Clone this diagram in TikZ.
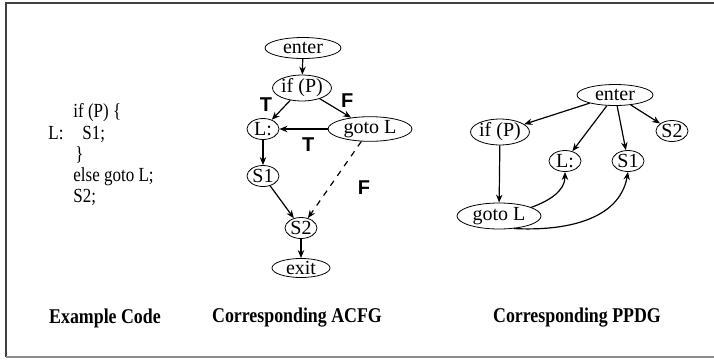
\documentclass[tikz,border=0pt]{standalone}
\usepackage{fontspec}
\setmainfont{Liberation Serif}
\setsansfont{Liberation Sans}
\newfontfamily\narrowfont[FakeStretch=0.85]{Liberation Serif}
\usetikzlibrary{positioning,arrows.meta,shapes.geometric}

\begin{document}
\begin{tikzpicture}[x=0.5pt, y=-0.5pt,
  stmt/.style={draw, ellipse, font=\normalsize, inner xsep=0pt, inner ysep=0pt,
               minimum height=10.5pt},
  arr/.style={-{Stealth[length=4pt, width=3.2pt]}, semithick},
  brl/.style={font=\sffamily\bfseries\normalsize, inner sep=1pt},
  ttl/.style={font=\narrowfont\bfseries\fontsize{10.5}{12}\selectfont},
  code/.style={font=\narrowfont\normalsize, anchor=base west, inner sep=0pt}
]
\useasboundingbox (0,0) rectangle (714,360);
% frame
\draw[line width=1pt, black!75] (6,357) -- (6,3) -- (716,3);
\draw[line width=1pt, black!45] (6,357) -- (716,357);

% example code
\node[code] (c1) at (73,117) {if (P) \{};
\node[code] (c2) at (48,139) {L:};
\node[code] (c3) at (82,139) {S1;};
\node[code] (c4) at (75,160) {\}};
\node[code] (c5) at (73,181) {else goto L;};
\node[code] (c6) at (73,202) {S2;};

% ACFG
\node[stmt, minimum width=38pt] (entA) at (303,48) {enter};
\node[stmt, minimum width=29pt] (ifA) at (302,88) {if (P)};
\node[stmt, minimum width=16pt] (lA) at (263,129) {L:};
\node[stmt, minimum width=42pt, minimum height=12pt] (gotoA) at (370,129) {goto L};
\node[stmt, minimum width=16pt] (s1A) at (263,176) {S1};
\node[stmt, minimum width=16pt] (s2A) at (301,228) {S2};
\node[stmt, minimum width=29pt, minimum height=9.5pt] (exA) at (301,268) {exit};
\draw[arr] (entA) -- (ifA);
\draw[arr] (ifA) -- node[brl, pos=0.2, left=6pt]{T} (lA);
\draw[arr] (ifA) -- node[brl, pos=0.6, above right=0pt]{F} (gotoA);
\draw[arr] (gotoA) -- node[brl, below=3pt, pos=0.4]{T} (lA);
\draw[arr] (lA) -- (s1A);
\draw[arr] (s1A) -- (s2A);
\draw[arr, dashed] (gotoA) -- node[brl, right=13pt, pos=0.6]{F} (s2A);
\draw[arr] (s2A) -- (exA);

% PPDG
\node[stmt, minimum width=38pt] (entB) at (615,95) {enter};
\node[stmt, minimum width=29pt] (ifB) at (500,132) {if (P)};
\node[stmt, minimum width=16pt] (lB) at (565,161) {L:};
\node[stmt, minimum width=16pt] (s1B) at (628,161) {S1};
\node[stmt, minimum width=16pt] (s2B) at (672,131) {S2};
\node[stmt, minimum width=42pt, minimum height=13pt] (gotoB) at (499,216) {goto L};
\draw[arr] (entB) -- (ifB);
\draw[arr] (entB) -- (lB);
\draw[arr] (entB) -- (s1B);
\draw[arr] (entB) -- (s2B);
\draw[arr] (ifB) -- (gotoB);
\draw[arr] (gotoB.15) to[out=20, in=-90] (lB.south);
\draw[arr] (gotoB.-40) to[out=-3, in=-100] (s1B.south);

% titles
\node[ttl] (t1) at (105,318) {Example Code};
\node[ttl] (t2) at (297,318) {Corresponding ACFG};
\node[ttl] (t3) at (577,318) {Corresponding PPDG};
\end{tikzpicture}
\end{document}
